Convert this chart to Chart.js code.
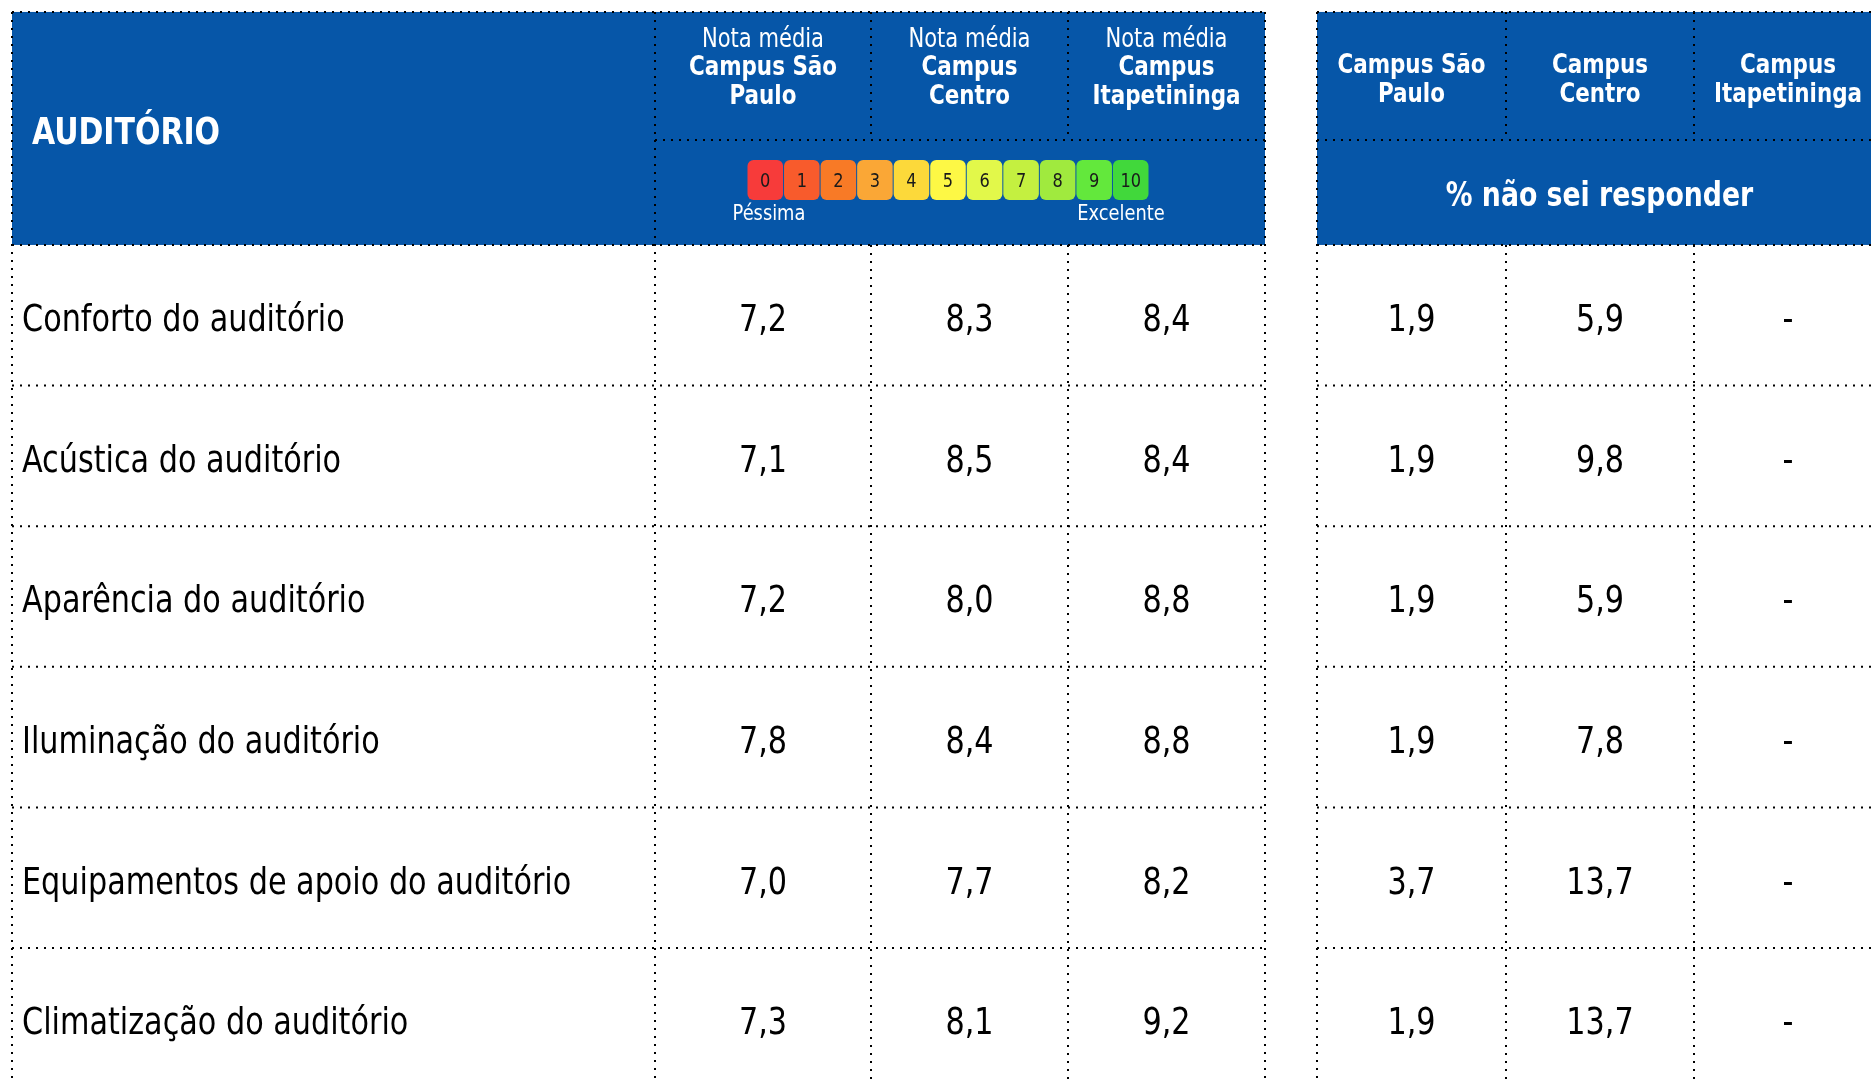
<!DOCTYPE html>
<html>
<head>
<meta charset="utf-8">
<script src="https://cdn.jsdelivr.net/npm/chart.js@4.4.1/dist/chart.umd.min.js"></script>
<style>
  html, body { margin: 0; padding: 0; background: #fff; }
  #wrap { width: 1871px; height: 1083px; }
</style>
</head>
<body>
<div id="wrap"><canvas id="myChart" width="1871" height="1083"></canvas></div>
<script>
// Table data
const sectionTitle = "AUDITÓRIO";
const items = [
    "Conforto do auditório",
    "Acústica do auditório",
    "Aparência do auditório",
    "Iluminação do auditório",
    "Equipamentos de apoio do auditório",
    "Climatização do auditório"
];
const campusNames = [["Campus São", "Paulo"], ["Campus", "Centro"], ["Campus", "Itapetininga"]];
const notaSaoPaulo = [7.2, 7.1, 7.2, 7.8, 7.0, 7.3];
const notaCentro = [8.3, 8.5, 8.0, 8.4, 7.7, 8.1];
const notaItapetininga = [8.4, 8.4, 8.8, 8.8, 8.2, 9.2];
const naoSeiSaoPaulo = [1.9, 1.9, 1.9, 1.9, 3.7, 1.9];
const naoSeiCentro = [5.9, 9.8, 5.9, 7.8, 13.7, 13.7];
const naoSeiItapetininga = [null, null, null, null, null, null];
const scaleSteps = [0, 1, 2, 3, 4, 5, 6, 7, 8, 9, 10];
const scaleColors = ['#f73b3a', '#f85b2c', '#f87a26', '#faa736', '#fcd93a', '#fdf845',
                     '#e2f84a', '#c4f040', '#a0ea3e', '#63e83c', '#41d83b'];

// Layout (pixels along the x axis)
const colEdges = [12, 655, 871, 1068, 1265, 1317, 1506, 1694, 1882];
const valueCols = [[1, 2], [2, 3], [3, 4], [5, 6], [6, 7], [7, 8]];
const BLUE = '#0656a8';
const FONT = '"DejaVu Sans Condensed", "DejaVu Sans", sans-serif';

function fmt(v) {
    if (v === null) return '-';
    return v.toFixed(1).replace('.', ',');
}

function drawText(ctx, text, x, y, size, bold, color, align, squash) {
    ctx.save();
    ctx.font = (bold ? 'bold ' : '') + size + 'px ' + FONT;
    ctx.fillStyle = color;
    ctx.textAlign = align || 'center';
    ctx.textBaseline = 'middle';
    ctx.translate(x, y);
    ctx.scale(squash || 0.9, 1);
    ctx.fillText(text, 0, 0);
    ctx.restore();
}

function dotted(ctx, x1, y1, x2, y2) {
    ctx.beginPath();
    ctx.moveTo(x1, y1);
    ctx.lineTo(x2, y2);
    ctx.stroke();
}

const columns = [notaSaoPaulo, notaCentro, notaItapetininga, naoSeiSaoPaulo, naoSeiCentro, naoSeiItapetininga];

// one invisible point per cell, text is drawn at the point position
let datasets = columns.map((values, c) => {
    let span = valueCols[c];
    let cx = (colEdges[span[0]] + colEdges[span[1]]) / 2;
    return {
        label: 'col' + c,
        labels: values.map(fmt),
        align: 'center',
        data: values.map((v, i) => ({ x: cx, y: i + 0.5 })),
        pointRadius: 0
    };
});
datasets.unshift({
    label: 'items',
    labels: items,
    align: 'left',
    data: items.map((t, i) => ({ x: colEdges[0] + 10, y: i + 0.5 })),
    pointRadius: 0
});

const tablePlugin = {
    id: 'tablePlugin',
    beforeDatasetsDraw(chart) {
        const ctx = chart.ctx;
        const xs = chart.scales.x;
        const ys = chart.scales.y;
        const X = i => xs.getPixelForValue(colEdges[i]);
        const hb = ys.getPixelForValue(0);        // header bottom
        const ht = hb - 233;                       // header top
        const hm = hb - 105;                       // header middle line
        const bottom = chart.chartArea.bottom;

        // header backgrounds
        ctx.fillStyle = BLUE;
        ctx.fillRect(X(0), ht, X(4) - X(0), hb - ht);
        ctx.fillRect(X(5), ht, X(8) - X(5), hb - ht);

        // dotted grid
        ctx.save();
        ctx.strokeStyle = '#000';
        ctx.lineWidth = 2;
        ctx.setLineDash([2, 6]);
        let blocks = [[0, 4], [5, 8]];
        blocks.forEach(b => {
            dotted(ctx, X(b[0]), ht, X(b[1]), ht);
            for (let r = 0; r < items.length; r++) {
                let y = ys.getPixelForValue(r);
                dotted(ctx, X(b[0]), y, X(b[1]), y);
            }
        });
        dotted(ctx, X(1), hm, X(4), hm);
        dotted(ctx, X(5), hm, X(8), hm);
        [0, 1, 4, 5].forEach(i => dotted(ctx, X(i), ht, X(i), bottom));
        [2, 3, 6, 7].forEach(i => {
            dotted(ctx, X(i), ht, X(i), hm);
            dotted(ctx, X(i), hb, X(i), bottom);
        });
        ctx.restore();

        // header texts
        drawText(ctx, sectionTitle, X(0) + 20, hb - 111, 37, true, '#fff', 'left');
        campusNames.forEach((name, c) => {
            let cx = (X(c + 1) + X(c + 2)) / 2;
            drawText(ctx, 'Nota média', cx, hb - 205, 26, false, '#fff');
            drawText(ctx, name[0], cx, hb - 177, 26.5, true, '#fff');
            drawText(ctx, name[1], cx, hb - 148, 26.5, true, '#fff');
            let rx = (X(c + 5) + X(c + 6)) / 2;
            drawText(ctx, name[0], rx, hb - 179, 26.5, true, '#fff');
            drawText(ctx, name[1], rx, hb - 150, 26.5, true, '#fff');
        });
        drawText(ctx, '% não sei responder', (X(5) + X(8)) / 2, hb - 48, 33, true, '#fff');

        // rating scale 0..10
        const sx0 = xs.getPixelForValue(747);
        const sw = (xs.getPixelForValue(1149) - sx0) / scaleSteps.length;
        scaleSteps.forEach((s, k) => {
            let bx = sx0 + k * sw;
            ctx.fillStyle = scaleColors[k];
            ctx.beginPath();
            ctx.roundRect(bx + 0.5, hb - 85, sw - 1, 40, 6);
            ctx.fill();
            drawText(ctx, String(s), bx + sw / 2, hb - 63, 20, false, '#1a1a1a');
        });
        drawText(ctx, 'Péssima', sx0 + 22, hb - 31, 22, false, '#fff');
        drawText(ctx, 'Excelente', sx0 + 11 * sw - 28, hb - 31, 22, false, '#fff');
    },
    afterDatasetsDraw(chart) {
        const ctx = chart.ctx;
        chart.data.datasets.forEach((ds, d) => {
            const meta = chart.getDatasetMeta(d);
            meta.data.forEach((pt, i) => {
                drawText(ctx, ds.labels[i], pt.x, pt.y + 6, 38, false, '#000', ds.align, 0.885);
            });
        });
    }
};

const config = {
    type: 'scatter',
    data: { datasets: datasets },
    options: {
        responsive: false,
        animation: false,
        devicePixelRatio: 1,
        layout: { padding: 0 },
        plugins: { legend: { display: false }, tooltip: { enabled: false } },
        scales: {
            x: { type: 'linear', display: false, min: 0, max: 1871 },
            y: { type: 'linear', display: false, reverse: true, min: -1.742, max: 5.96 }
        }
    },
    plugins: [tablePlugin]
};

const theChart = new Chart(document.getElementById('myChart').getContext('2d'), config);
</script>
</body>
</html>
